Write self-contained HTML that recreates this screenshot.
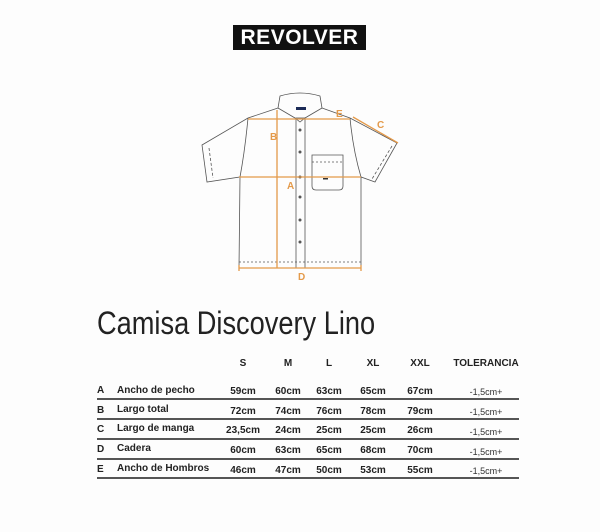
<!DOCTYPE html>
<html><head><meta charset="utf-8"><style>
body{margin:0;width:600px;height:532px;background:#fdfdfd;position:relative;overflow:hidden;font-family:"Liberation Sans",Arial,sans-serif;}
.logo{position:absolute;left:233px;top:25px;width:133px;height:25px;background:#111;color:#fff;font-weight:bold;font-size:21px;line-height:25px;text-align:center;letter-spacing:0.5px}
.t{position:absolute;font-size:10px;font-weight:bold;color:#222;white-space:nowrap}
.c{transform:translateX(-50%)}
.tol{font-weight:normal;font-size:9px;color:#333}
.ln{position:absolute;left:97px;width:422px;height:1.5px;background:#555}
.title{position:absolute;left:97px;top:305px;font-family:"Liberation Sans",sans-serif;font-size:32px;color:#222;transform:scaleX(0.85);transform-origin:left;white-space:nowrap}
</style></head><body>
<div class="logo">REVOLVER</div>
<svg width="600" height="300" style="position:absolute;left:0;top:0" fill="none">
<g stroke="#555" stroke-width="0.8">
<path d="M280 96 Q300 90 320 96 L322 108 L305 118 L300 122 L295 118 L278 108 Z"/>
<path d="M278 108 L248 118 L202 145 L207 182 L240 177 L239 268 L361 268 L361 177 L375 182 L397 143 L350 118 L322 108"/>
<path d="M248 118 Q245 150 240 177 M350 118 Q353 150 361 177"/>
<path d="M239 262 L361 262" stroke-dasharray="2 2"/>
<rect x="296" y="118" width="9" height="150"/>
<path d="M312 155 L343 155 L343 186 Q343 190 339 190 L316 190 Q312 190 312 186 Z"/>
<path d="M312 162 L343 162" stroke-dasharray="2 2"/>
<path d="M209 148 L213 178 M392 146 L372 179" stroke-dasharray="3 2"/>
<rect x="296" y="107" width="10" height="3" fill="#1c2b57" stroke="none"/>
<rect x="323" y="178" width="5" height="1.5" fill="#333" stroke="none"/>
</g>
<g fill="#555">
<circle cx="300" cy="130" r="1.5"/><circle cx="300" cy="152" r="1.5"/><circle cx="300" cy="177" r="1.5"/><circle cx="300" cy="197" r="1.5"/><circle cx="300" cy="220" r="1.5"/><circle cx="300" cy="242" r="1.5"/>
</g>
<g stroke="#e49a4a" stroke-width="1.3">
<line x1="239" y1="177" x2="361" y2="177"/>
<line x1="277" y1="110" x2="277" y2="268"/>
<line x1="248" y1="119" x2="350" y2="119"/>
<line x1="353" y1="117" x2="398" y2="143"/>
<line x1="239" y1="268" x2="361" y2="268"/>
<line x1="239" y1="265" x2="239" y2="271"/><line x1="361" y1="265" x2="361" y2="271"/>
</g>
<g fill="#e49a4a" font-family="Liberation Sans, sans-serif" font-size="10" font-weight="bold">
<text x="270" y="140">B</text><text x="287" y="189">A</text><text x="336" y="117">E</text><text x="377" y="128">C</text><text x="298" y="280">D</text>
</g>
</svg>
<div class="title">Camisa Discovery Lino</div>
<div class="t c" style="left:243px;top:358px">S</div>
<div class="t c" style="left:288px;top:358px">M</div>
<div class="t c" style="left:329px;top:358px">L</div>
<div class="t c" style="left:373px;top:358px">XL</div>
<div class="t c" style="left:420px;top:358px">XXL</div>
<div class="t c" style="left:486px;top:358px">TOLERANCIA</div>

<div class="t" style="left:97px;top:385px">A</div><div class="t" style="left:117px;top:385px">Ancho de pecho</div>
<div class="t c" style="left:243px;top:386px">59cm</div><div class="t c" style="left:288px;top:386px">60cm</div><div class="t c" style="left:329px;top:386px">63cm</div><div class="t c" style="left:373px;top:386px">65cm</div><div class="t c" style="left:420px;top:386px">67cm</div><div class="t c tol" style="left:486px;top:387px">-1,5cm+</div>
<div class="ln" style="top:398px"></div>

<div class="t" style="left:97px;top:405px">B</div><div class="t" style="left:117px;top:404px">Largo total</div>
<div class="t c" style="left:243px;top:406px">72cm</div><div class="t c" style="left:288px;top:406px">74cm</div><div class="t c" style="left:329px;top:406px">76cm</div><div class="t c" style="left:373px;top:406px">78cm</div><div class="t c" style="left:420px;top:406px">79cm</div><div class="t c tol" style="left:486px;top:407px">-1,5cm+</div>
<div class="ln" style="top:418px"></div>

<div class="t" style="left:97px;top:424px">C</div><div class="t" style="left:117px;top:423px">Largo de manga</div>
<div class="t c" style="left:243px;top:425px">23,5cm</div><div class="t c" style="left:288px;top:425px">24cm</div><div class="t c" style="left:329px;top:425px">25cm</div><div class="t c" style="left:373px;top:425px">25cm</div><div class="t c" style="left:420px;top:425px">26cm</div><div class="t c tol" style="left:486px;top:427px">-1,5cm+</div>
<div class="ln" style="top:438px"></div>

<div class="t" style="left:97px;top:444px">D</div><div class="t" style="left:117px;top:443px">Cadera</div>
<div class="t c" style="left:243px;top:445px">60cm</div><div class="t c" style="left:288px;top:445px">63cm</div><div class="t c" style="left:329px;top:445px">65cm</div><div class="t c" style="left:373px;top:445px">68cm</div><div class="t c" style="left:420px;top:445px">70cm</div><div class="t c tol" style="left:486px;top:447px">-1,5cm+</div>
<div class="ln" style="top:458px"></div>

<div class="t" style="left:97px;top:464px">E</div><div class="t" style="left:117px;top:463px">Ancho de Hombros</div>
<div class="t c" style="left:243px;top:465px">46cm</div><div class="t c" style="left:288px;top:465px">47cm</div><div class="t c" style="left:329px;top:465px">50cm</div><div class="t c" style="left:373px;top:465px">53cm</div><div class="t c" style="left:420px;top:465px">55cm</div><div class="t c tol" style="left:486px;top:466px">-1,5cm+</div>
<div class="ln" style="top:477px"></div>
</body></html>
